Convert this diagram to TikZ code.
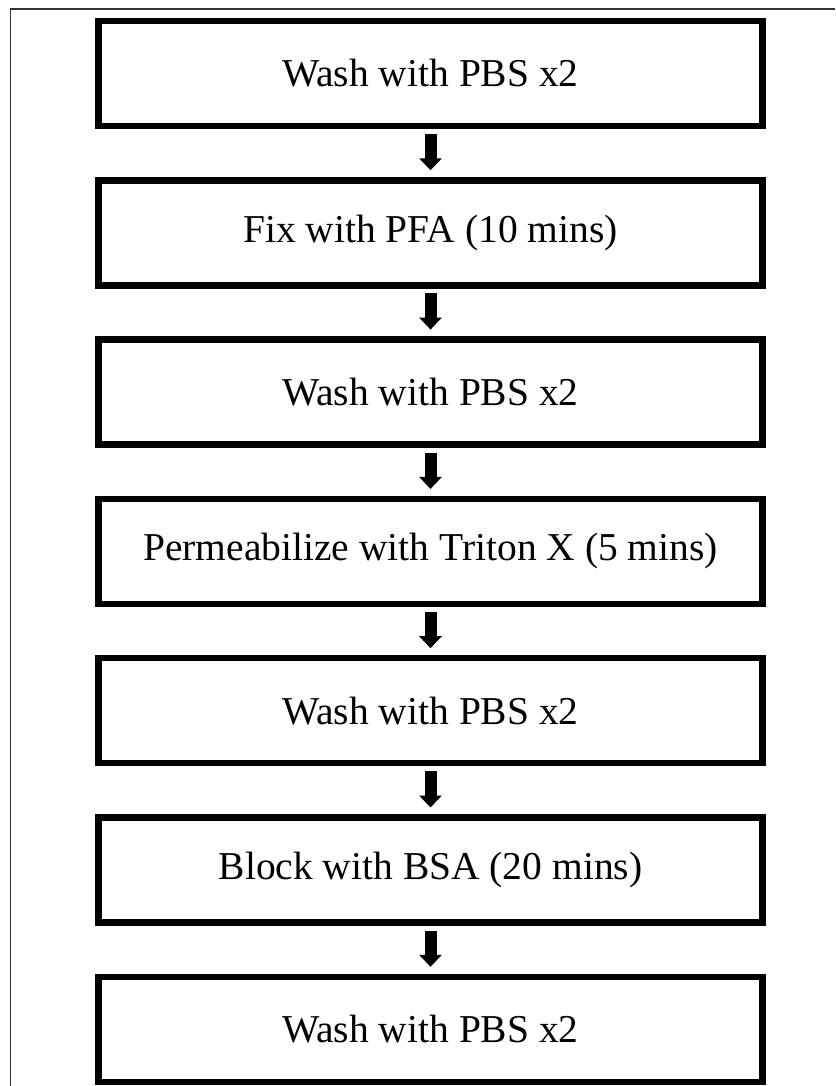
\documentclass[tikz,border=0pt]{standalone}
\usepackage{fontspec}
\setmainfont{Liberation Serif}
\usepackage{tikz}
\usetikzlibrary{arrows.meta, positioning}

\begin{document}
\begin{tikzpicture}[
    x=0.5pt, y=-0.5pt,
    node distance=27.15pt,
    every node/.style={font=\fontsize{19.75pt}{24pt}\selectfont},
    protoStep/.style={rectangle, draw=black, line width=3.25pt, fill=white, minimum width=332pt, minimum height=52.5pt, outer sep=0pt, align=center},
    flowArrow/.style={-{Triangle[length=6pt, width=11pt]}, line width=6pt, black, shorten <=4pt, shorten >=5pt},
    frameLine/.style={draw=black!80, line width=0.65pt}
]
\useasboundingbox (0,0) rectangle (835,1086);

% ============== Marco exterior ==============
\draw[frameLine] (10.5,1086) |- (835,9);

% ============== Pasos del protocolo ==============
\node[protoStep] (wash1) at (430.5,73.5) {Wash with PBS x2};
\node[protoStep, below=of wash1] (fix) {Fix with PFA (10 mins)};
\node[protoStep, below=of fix] (wash2) {Wash with PBS x2};
\node[protoStep, below=of wash2] (perm) {Permeabilize with Triton X (5 mins)};
\node[protoStep, below=of perm] (wash3) {Wash with PBS x2};
\node[protoStep, below=of wash3] (block) {Block with BSA (20 mins)};
\node[protoStep, below=of block] (wash4) {Wash with PBS x2};

% ============== Flechas ==============
\draw[flowArrow] (wash1) -- (fix);
\draw[flowArrow] (fix) -- (wash2);
\draw[flowArrow] (wash2) -- (perm);
\draw[flowArrow] (perm) -- (wash3);
\draw[flowArrow] (wash3) -- (block);
\draw[flowArrow] (block) -- (wash4);
\end{tikzpicture}
\end{document}
